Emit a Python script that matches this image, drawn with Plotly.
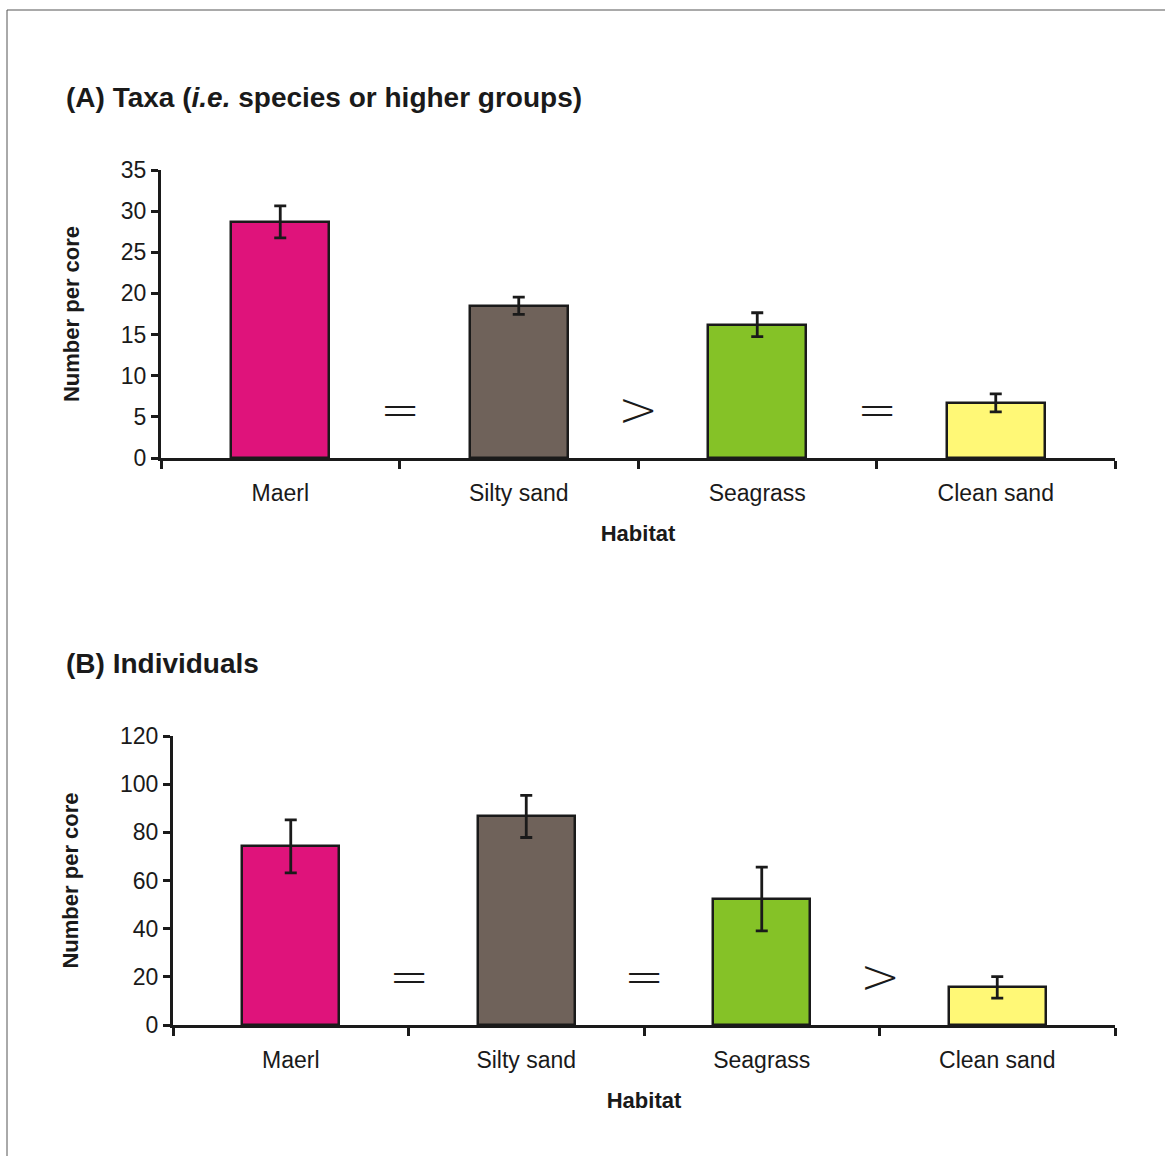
import plotly.graph_objects as go

W, H = 1165, 1156

categories = ["Maerl", "Silty sand", "Seagrass", "Clean sand"]
taxa_mean = [28.7, 18.5, 16.2, 6.7]
taxa_se = [1.95, 1.05, 1.45, 1.1]
ind_mean = [74.2, 86.6, 52.3, 15.6]
ind_se = [11.0, 8.75, 13.25, 4.45]
bar_colors = ["#DF137B", "#6F625A", "#85C227", "#FFF876"]
taxa_relations = ["=", ">", "="]
ind_relations = ["=", "=", ">"]
taxa_yticks = [0, 5, 10, 15, 20, 25, 30, 35]
ind_yticks = [0, 20, 40, 60, 80, 100, 120]

FONT = "Liberation Sans, Arial, sans-serif"
INK = "#1a1a1a"

def px_x(p):
    return p / W

def px_y(p):
    return 1 - p / H

fig = go.Figure()

for mean, se, xa, ya in [(taxa_mean, taxa_se, "x", "y"), (ind_mean, ind_se, "x2", "y2")]:
    fig.add_trace(go.Bar(
        x=categories, y=mean, xaxis=xa, yaxis=ya,
        width=0.41,
        marker=dict(color=bar_colors, line=dict(color=INK, width=2.5)),
        error_y=dict(type="data", array=se, visible=True, color=INK, thickness=2.8, width=6),
        showlegend=False, hoverinfo="skip",
    ))

common_x = dict(
    type="category", tickson="boundaries", ticks="outside", ticklen=8, tickwidth=2.5,
    tickcolor=INK, showline=True, linewidth=3, linecolor=INK, showgrid=False,
    tickfont=dict(family=FONT, size=23, color=INK), range=[-0.5, 3.5],
    ticklabelstandoff=12, automargin=False,
    title=dict(text="<b>Habitat</b>", font=dict(family=FONT, size=22, color=INK), standoff=22),
)
common_y = dict(
    ticks="outside", ticklen=7, tickwidth=2.5, tickcolor=INK, showline=True,
    linewidth=3, linecolor=INK, showgrid=False, zeroline=False, automargin=False,
    tickfont=dict(family=FONT, size=23, color=INK),
    title=dict(text="<b>Number per core</b>", font=dict(family=FONT, size=22, color=INK), standoff=36),
)

fig.update_layout(
    template="none",
    width=W, height=H,
    margin=dict(l=0, r=0, t=0, b=0, pad=0, autoexpand=False),
    paper_bgcolor="white", plot_bgcolor="white",
    bargap=0, showlegend=False,
    xaxis=dict(common_x, domain=[px_x(161), px_x(1115)], anchor="y"),
    yaxis=dict(common_y, domain=[px_y(458), px_y(170)], anchor="x", range=[0, 35],
               tickvals=taxa_yticks),
    xaxis2=dict(common_x, domain=[px_x(173), px_x(1115)], anchor="y2"),
    yaxis2=dict(common_y, domain=[px_y(1025), px_y(736)], anchor="x2", range=[0, 120],
                tickvals=ind_yticks),
)

annotations = []
for i, rel in enumerate(taxa_relations):
    annotations.append(dict(x=i + 0.5, y=6, xref="x", yref="y", text=rel, showarrow=False,
                            font=dict(family="DejaVu Sans", size=48, color=INK, weight=200)))
for i, rel in enumerate(ind_relations):
    annotations.append(dict(x=i + 0.5, y=20.5, xref="x2", yref="y2", text=rel, showarrow=False,
                            font=dict(family="DejaVu Sans", size=48, color=INK, weight=200)))
annotations.append(dict(x=px_x(64), y=px_y(97), xref="paper", yref="paper", xanchor="left",
                        yanchor="middle", showarrow=False,
                        text="<b>(A) Taxa (<i>i.e.</i> species or higher groups)</b>",
                        font=dict(family=FONT, size=28, color=INK)))
annotations.append(dict(x=px_x(64), y=px_y(663), xref="paper", yref="paper", xanchor="left",
                        yanchor="middle", showarrow=False,
                        text="<b>(B) Individuals</b>",
                        font=dict(family=FONT, size=28, color=INK)))
fig.update_layout(annotations=annotations)

fig.add_shape(type="line", xref="paper", yref="paper", x0=px_x(7), x1=1, y0=px_y(10), y1=px_y(10),
              line=dict(color="#555555", width=1))
fig.add_shape(type="line", xref="paper", yref="paper", x0=px_x(7), x1=px_x(7), y0=0, y1=px_y(10),
              line=dict(color="#555555", width=1))

fig.write_html("out.html", config={"displayModeBar": False},
               post_script="document.body.style.margin='0';")
